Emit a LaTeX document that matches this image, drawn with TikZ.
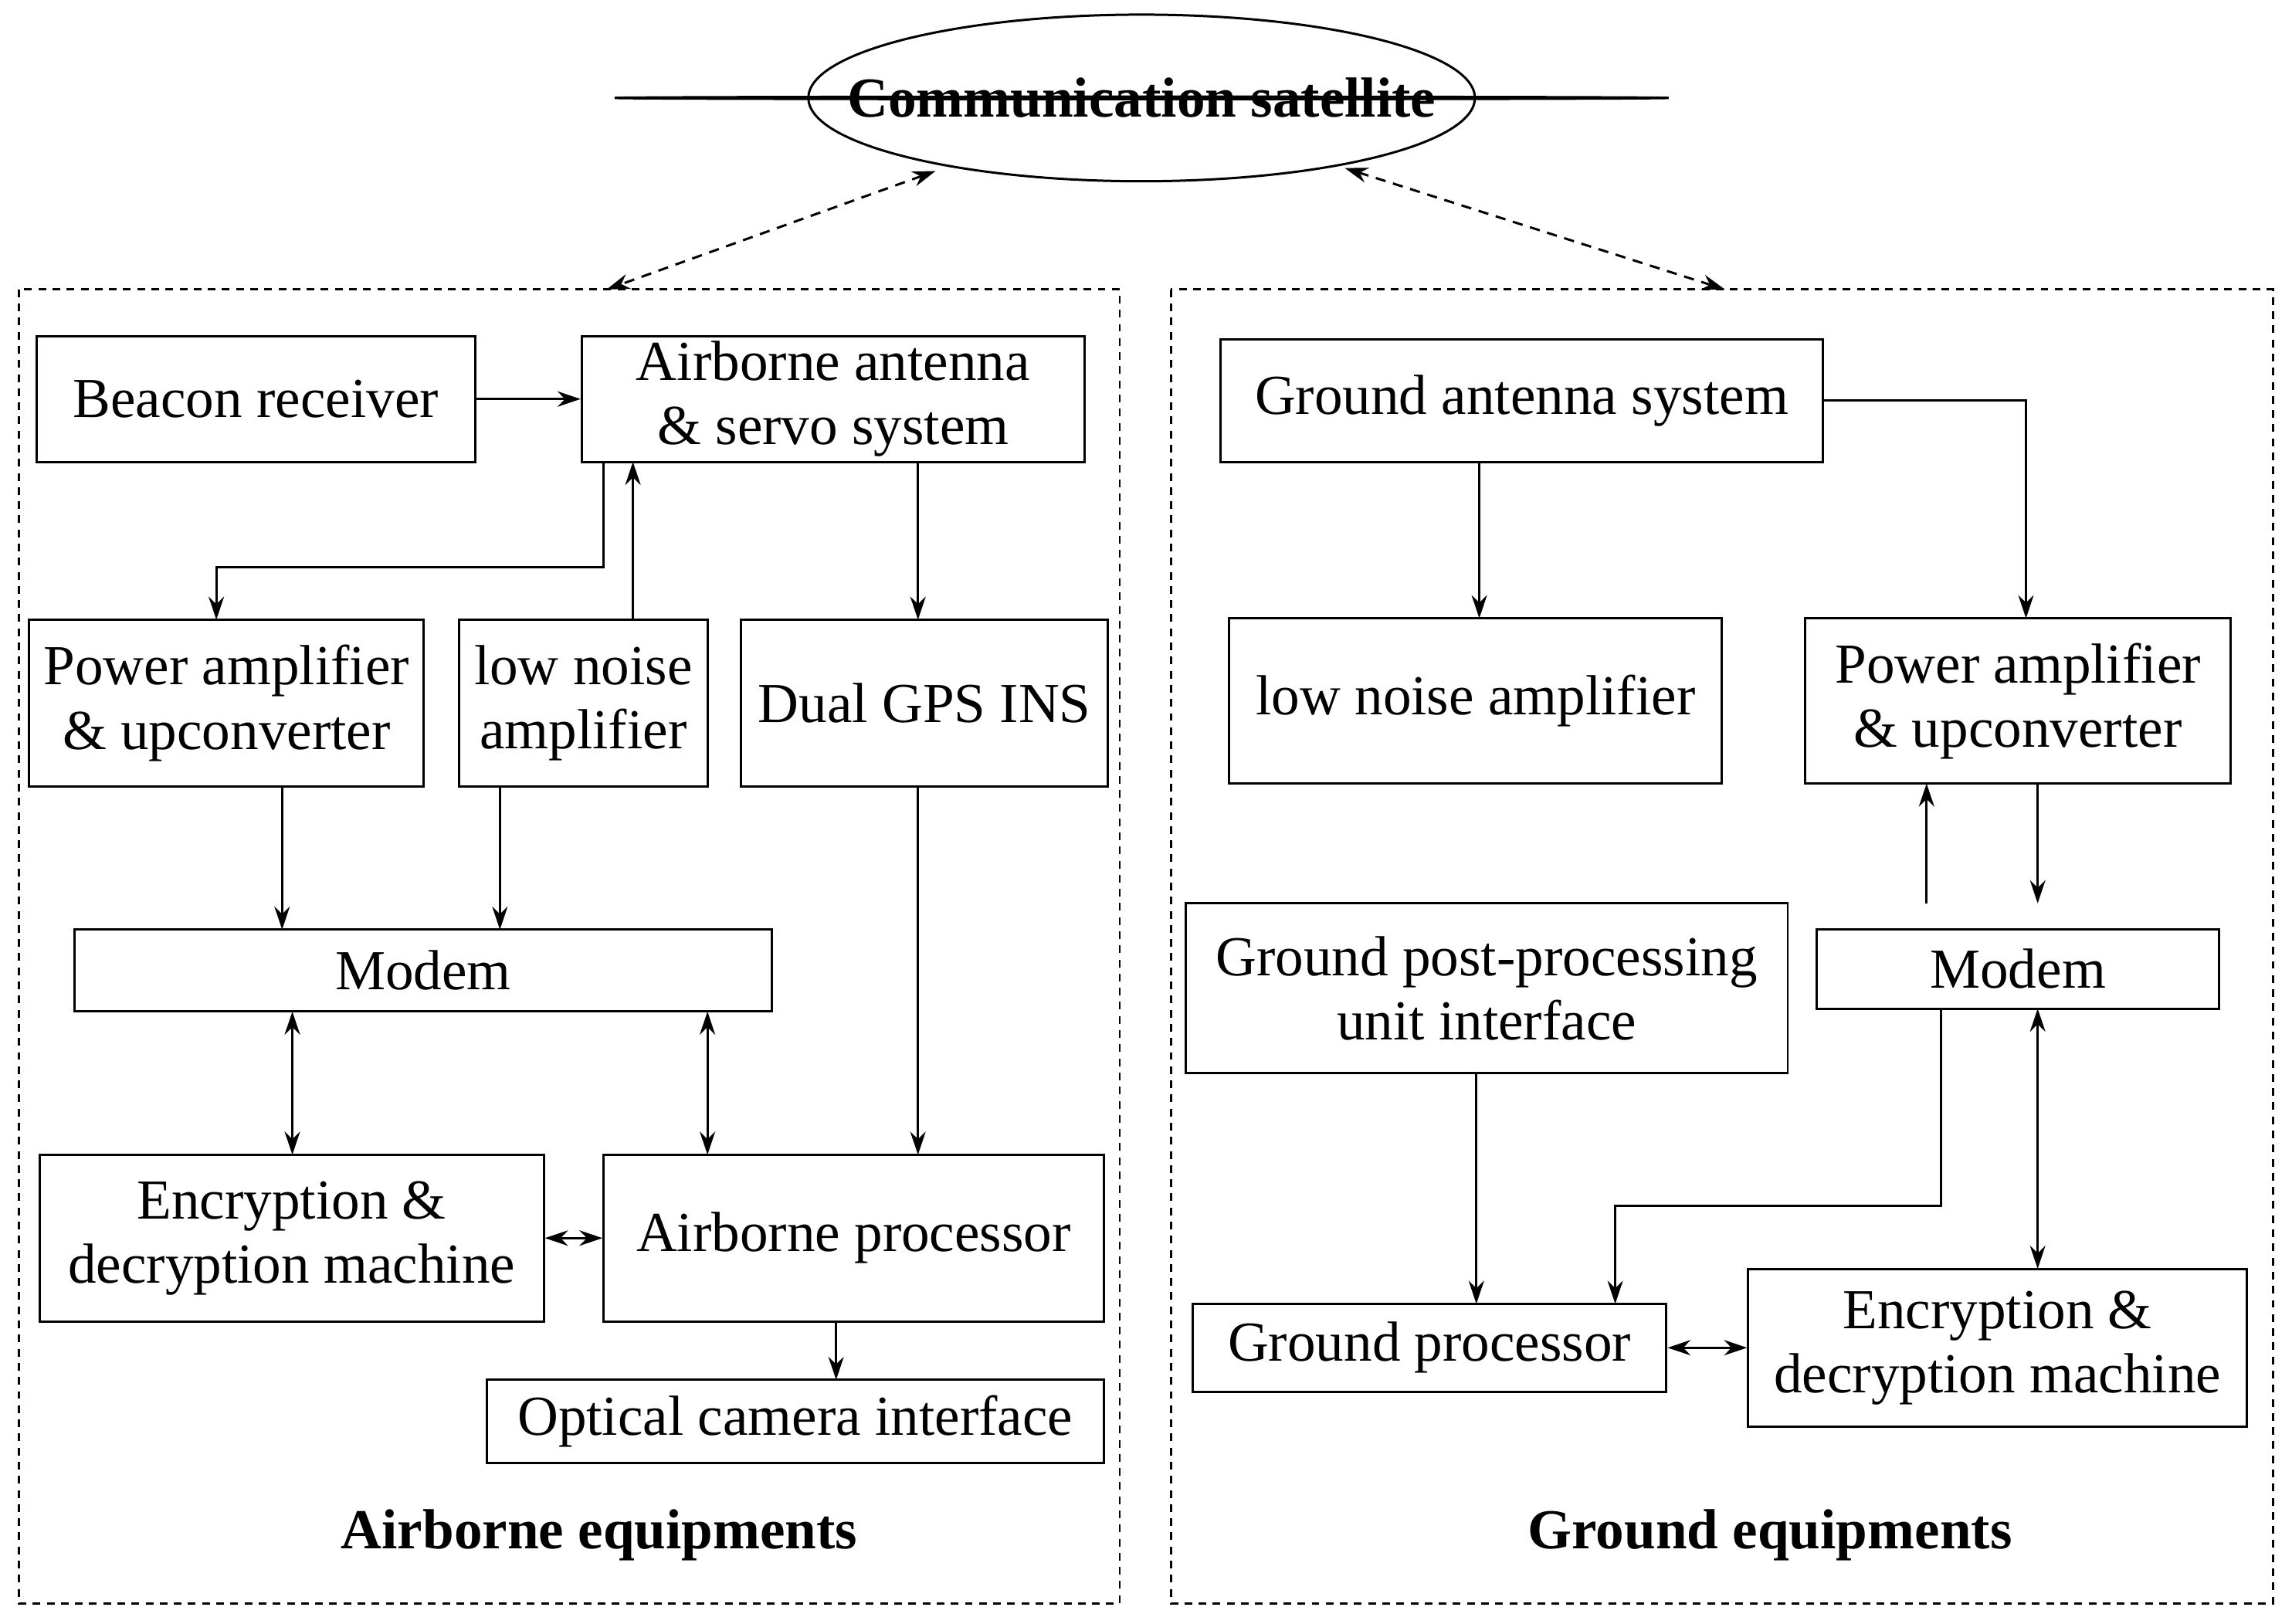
\documentclass[tikz,border=0pt]{standalone}
\usepackage{fontspec}
\setmainfont{Liberation Serif}
\usetikzlibrary{arrows.meta,shapes.geometric}
\begin{document}
\begin{tikzpicture}[x=0.02cm,y=-0.02cm,
 bx/.style={draw,line width=0.9pt,inner sep=0pt,align=center,font=\fontsize{22}{25}\selectfont},
 ar/.style={line width=0.9pt,-{Stealth[length=9pt,width=6pt]}},
 dar/.style={line width=0.9pt,{Stealth[length=9pt,width=6pt]}-{Stealth[length=9pt,width=6pt]}},
 ds/.style={line width=0.9pt,dashed,dash pattern=on 4pt off 3pt,{Stealth[length=9pt,width=6pt]}-{Stealth[length=9pt,width=6pt]}},
 grp/.style={draw,line width=0.8pt,dash pattern=on 3pt off 2.5pt}]
\useasboundingbox (0,0) rectangle (1568,1111);
\node[draw,ellipse,line width=0.9pt,minimum width=456\pgflinewidth,inner sep=0pt] (sat) at (781,67) {};
\draw[line width=0.9pt] (781,67) ellipse [x radius=228, y radius=57];
\node[font=\fontsize{22}{25}\selectfont\bfseries] at (781,67) {Communication satellite};
\draw[grp] (13,198) rectangle (766,1097);
\draw[grp] (801,198) rectangle (1555,1097);
\coordinate (sl) at (640,117); \coordinate (sr) at (920,115);
\coordinate (gl) at (415,198); \coordinate (gr) at (1180,198);
\draw[ds] (sl) -- (gl);
\draw[ds] (sr) -- (gr);
\newcommand{\bxat}[6]{\node[bx,minimum width={(#4-#2)*0.02cm},minimum height={(#5-#3)*0.02cm}] (#1) at ({(#2+#4)/2},{(#3+#5)/2}) {#6};}
\bxat{beacon}{25}{230}{325}{316}{Beacon receiver}
\bxat{ant}{398}{230}{742}{316}{Airborne antenna\\ \& servo system}
\bxat{pal}{20}{424}{290}{538}{Power amplifier\\ \& upconverter}
\bxat{lnl}{314}{424}{484}{538}{low noise\\ amplifier}
\bxat{gps}{507}{424}{758}{538}{Dual GPS INS}
\bxat{modl}{51}{636}{528}{692}{Modem}
\bxat{encl}{27}{790}{372}{904}{Encryption \&\\ decryption machine}
\bxat{proc}{413}{790}{755}{904}{Airborne processor}
\bxat{opt}{333}{944}{755}{1001}{Optical camera interface}
\bxat{gant}{835}{232}{1247}{316}{Ground antenna system}
\bxat{lnr}{841}{423}{1178}{536}{low noise amplifier}
\bxat{par}{1235}{423}{1526}{536}{Power amplifier\\ \& upconverter}
\bxat{post}{811}{618}{1223}{734}{Ground post-processing\\ unit interface}
\bxat{modr}{1243}{636}{1518}{690}{Modem}
\bxat{gproc}{816}{892}{1140}{952}{Ground processor}
\bxat{encr}{1196}{868}{1537}{976}{Encryption \&\\ decryption machine}
\node[font=\fontsize{22}{25}\selectfont\bfseries] at (410,1050) {Airborne equipments};
\node[font=\fontsize{22}{25}\selectfont\bfseries] at (1211,1050) {Ground equipments};
% left arrows
\draw[ar] (beacon) -- (ant);
\draw[ar] (413,316) -- (413,388) -- (148,388) -- (148,424);
\draw[ar] (433,424) -- (433,316);
\draw[ar] (628,316) -- (628,424);
\draw[ar] (193,538) -- (193,636);
\draw[ar] (342,538) -- (342,636);
\draw[dar] (200,692) -- (200,790);
\draw[dar] (484,692) -- (484,790);
\draw[ar] (628,538) -- (628,790);
\draw[dar] (encl) -- (proc);
\draw[ar] (572,904) -- (572,944);
% right arrows
\draw[ar] (1012,316) -- (1012,423);
\draw[ar] (gant.east) -- (1386,274) -- (1386,423);
\draw[ar] (1318,618) -- (1318,536);
\draw[ar] (1394,536) -- (1394,618);
\draw[ar] (1010,734) -- (1010,892);
\draw[ar] (1328,690) -- (1328,825) -- (1105,825) -- (1105,892);
\draw[dar] (1394,690) -- (1394,868);
\draw[dar] (gproc.east) -- (encr.west|-gproc.east);
\end{tikzpicture}
\end{document}
